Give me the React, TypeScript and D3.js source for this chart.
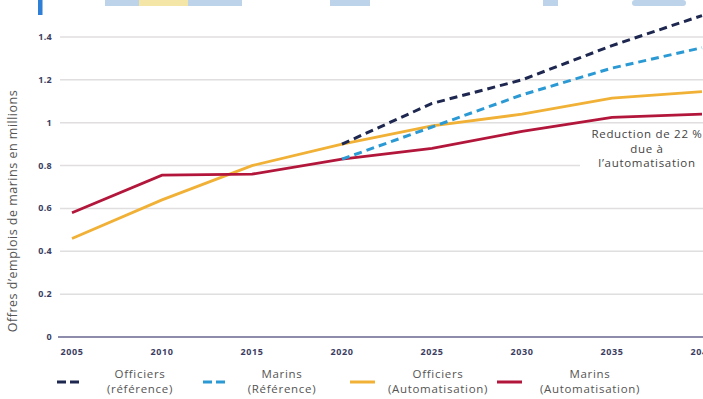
import React from "react";
import * as d3 from "d3";

const years = [2005, 2010, 2015, 2020, 2025, 2030, 2035, 2040];
const refYears = [2020, 2025, 2030, 2035, 2040];
const officiersRef = [0.9, 1.09, 1.2, 1.36, 1.5];
const marinsRef = [0.83, 0.98, 1.13, 1.255, 1.35];
const officiersAuto = [0.46, 0.64, 0.8, 0.9, 0.985, 1.04, 1.115, 1.145];
const marinsAuto = [0.58, 0.755, 0.76, 0.83, 0.88, 0.96, 1.025, 1.04];
const yTicks = [0, 0.2, 0.4, 0.6, 0.8, 1, 1.2, 1.4];
const yTickLabels = ["0", "0.2", "0.4", "0.6", "0.8", "1", "1.2", "1.4"];
const xTickLabels = ["2005", "2010", "2015", "2020", "2025", "2030", "2035", "2040"];

const legendItems = [
  { l1: "Officiers", l2: "(référence)", color: "#1d2750", dash: true },
  { l1: "Marins", l2: "(Référence)", color: "#2b9ad4", dash: true },
  { l1: "Officiers", l2: "(Automatisation)", color: "#f0b136", dash: false },
  { l1: "Marins", l2: "(Automatisation)", color: "#b3163b", dash: false },
];

export default function App() {
  const W = 703, H = 399;
  const x = d3.scaleLinear().domain([2005, 2040]).range([72, 702]);
  const y = d3.scaleLinear().domain([0, 1.4]).range([337, 37]);
  const line = d3
    .line<[number, number]>()
    .x((d) => x(d[0]))
    .y((d) => y(d[1]));
  const pairs = (xs: number[], vs: number[]) => xs.map((v, i) => [v, vs[i]] as [number, number]);
  const font = "'Open Sans', 'DejaVu Sans', sans-serif";
  const legendX = [57, 203, 350, 497];
  const legendTextX = [140, 282, 438, 590];

  return (
    <svg width={W} height={H} style={{ position: "absolute", left: 0, top: 0, background: "#fff" }}>
      <rect x={0} y={0} width={W} height={H} fill="#fff" />
      {/* top banner fragments */}
      <rect x={38} y={0} width={4.5} height={15} fill="#2f7fd6" />
      <rect x={105} y={0} width={137} height={6} fill="#bcd3ea" />
      <rect x={139} y={0} width={49} height={6} fill="#f3e6a6" />
      <rect x={330} y={0} width={40} height={6} fill="#bcd3ea" />
      <rect x={543} y={0} width={15} height={6} fill="#bcd3ea" />
      <rect x={632} y={0} width={54} height={6} rx={3} fill="#bcd3ea" />

      {/* gridlines */}
      {yTicks.slice(1).map((t) => (
        <line key={t} x1={60} x2={W} y1={y(t)} y2={y(t)} stroke="#e0dede" strokeWidth={1.5} />
      ))}
      {/* annotation background */}
      <rect x={580} y={126} width={123} height={48} fill="#fff" />
      {/* y tick labels */}
      {yTicks.map((t, i) => (
        <text key={t} x={52} y={y(t) + 3} textAnchor="end" fontSize={9} fontWeight="bold" fill="#3c3d62" fontFamily={font} letterSpacing={0.3}>
          {yTickLabels[i]}
        </text>
      ))}
      {/* x axis */}
      <line x1={58} x2={W} y1={y(0)} y2={y(0)} stroke="#8d8dab" strokeWidth={2} />
      {years.map((yr, i) => (
        <text key={yr} x={x(yr)} y={355} textAnchor="middle" fontSize={9} fontWeight="bold" fill="#3c3d62" fontFamily={font} letterSpacing={0.6}>
          {xTickLabels[i]}
        </text>
      ))}
      {/* y title */}
      <text
        transform={`translate(17,${211}) rotate(-90)`}
        textAnchor="middle"
        fontSize={12.5}
        fill="#555"
        fontFamily={font}
        letterSpacing={0.5}
      >
        Offres d’emplois de marins en millions
      </text>

      {/* lines */}
      <path d={line(pairs(years, officiersAuto)) || ""} fill="none" stroke="#f0b136" strokeWidth={2.8} />
      <path d={line(pairs(years, marinsAuto)) || ""} fill="none" stroke="#b3163b" strokeWidth={2.8} />
      <path d={line(pairs(refYears, marinsRef)) || ""} fill="none" stroke="#2b9ad4" strokeWidth={3} strokeDasharray="8 5" />
      <path d={line(pairs(refYears, officiersRef)) || ""} fill="none" stroke="#1d2750" strokeWidth={3} strokeDasharray="8 5" />

      {/* annotation */}
      <g fontSize={11.5} fill="#444" fontFamily={font} textAnchor="middle" letterSpacing={0.7}>
        <text x={647} y={138}>Reduction de 22 %</text>
        <text x={647} y={152.5}>due à</text>
        <text x={647} y={167}>l’automatisation</text>
      </g>

      {/* legend */}
      {legendItems.map((it, i) => (
        <g key={i}>
          <line
            x1={legendX[i]}
            x2={legendX[i] + 25}
            y1={382}
            y2={382}
            stroke={it.color}
            strokeWidth={3}
            strokeDasharray={it.dash ? "9 4" : undefined}
          />
          <text x={legendTextX[i]} y={378} textAnchor="middle" fontSize={11.5} fill="#555" fontFamily={font} letterSpacing={0.7}>
            {it.l1}
          </text>
          <text x={legendTextX[i]} y={393} textAnchor="middle" fontSize={11.5} fill="#555" fontFamily={font} letterSpacing={0.7}>
            {it.l2}
          </text>
        </g>
      ))}
    </svg>
  );
}
